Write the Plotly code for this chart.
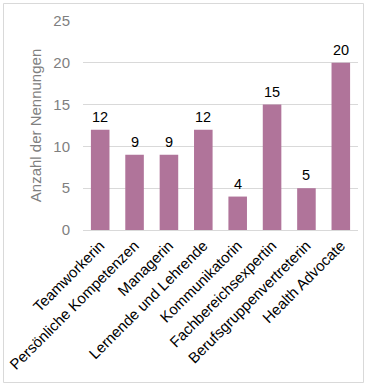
import plotly.graph_objects as go

categories = ["Teamworkerin", "Persönliche Kompetenzen", "Managerin", "Lernende und Lehrende",
              "Kommunikatorin", "Fachbereichsexpertin", "Berufsgruppenvertreterin", "Health Advocate"]
values = [12, 9, 9, 12, 4, 15, 5, 20]
y_ticks = [0, 5, 10, 15, 20, 25]

W, H = 369, 386
L, R, T, B = 83, 11, 21, 156
pw, ph = W - L - R, H - T - B

FONT = "Arial, Liberation Sans, sans-serif"

fig = go.Figure(go.Bar(
    x=categories, y=values, marker_color="#B0749A",
    marker_line_width=0, width=0.54,
))

for c, v in zip(categories, values):
    fig.add_annotation(x=c, y=v, text=str(v), showarrow=False, yanchor="bottom",
                       yshift=3, font=dict(family=FONT, size=14.5, color="#000000"))

fig.update_layout(
    width=W, height=H,
    margin=dict(l=L, r=R, t=T, b=B, autoexpand=False),
    plot_bgcolor="white", paper_bgcolor="white",
    font=dict(family=FONT),
    showlegend=False,
    xaxis=dict(tickangle=-45, tickfont=dict(size=15, color="#000000"),
               showgrid=False, showline=True, linecolor="#D9D9D9", ticks="", automargin=False),
    yaxis=dict(range=[0, 25], tickvals=y_ticks, showgrid=True, gridcolor="#D9D9D9",
               zeroline=False, tickfont=dict(size=15, color="#7F7F7F"), ticks="",
               ticklabelstandoff=12, automargin=False,
               title=dict(text="Anzahl der Nennungen", font=dict(size=15, color="#7F7F7F"), standoff=8)),
    shapes=[dict(type="rect", xref="paper", yref="paper",
                 x0=(3.5 - L) / pw, x1=(363.5 - L) / pw,
                 y0=(T + ph - 382.5) / ph, y1=(T + ph - 3.5) / ph,
                 line=dict(color="#D9D9D9", width=1), fillcolor="rgba(0,0,0,0)", layer="above")],
)

fig.write_html("out.html", config={"displayModeBar": False, "staticPlot": True},
               post_script="document.body.style.margin='0';document.body.style.overflow='hidden';")
